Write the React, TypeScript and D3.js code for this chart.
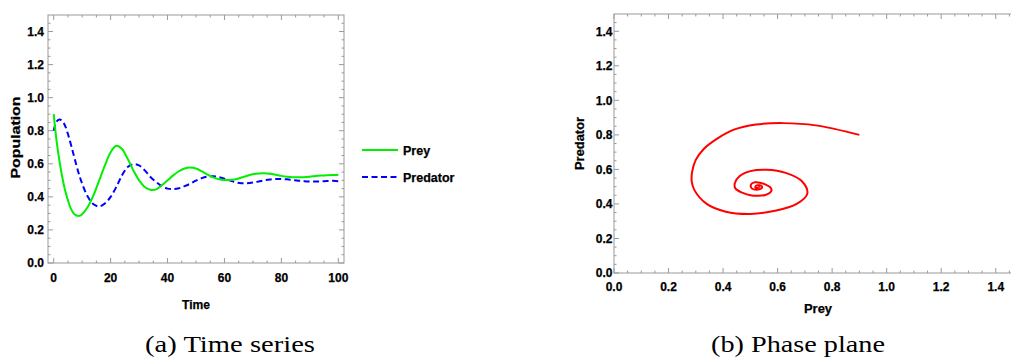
import * as d3 from 'd3';

// time samples (denser at the start where the curves move fast)
const time = [0, 1, 2, 3, 4, 5, 6, 7, 8, 9, 10, 12, 14, 16, 18, 20, 22, 24, 26, 28, 30, 32, 34, 36, 38, 40, 42, 44, 46, 48, 50, 52, 54, 56, 58, 60, 62, 64, 66, 68, 70, 72, 74, 76, 78, 80, 82, 84, 86, 88, 90, 92, 94, 96, 98, 100];
const prey = [0.90, 0.74, 0.62, 0.52, 0.44, 0.38, 0.33, 0.30, 0.287, 0.285, 0.295, 0.34, 0.41, 0.50, 0.59, 0.67, 0.709, 0.69, 0.63, 0.56, 0.50, 0.46, 0.443, 0.445, 0.47, 0.50, 0.53, 0.555, 0.572, 0.578, 0.572, 0.555, 0.535, 0.518, 0.507, 0.502, 0.502, 0.507, 0.517, 0.528, 0.537, 0.542, 0.543, 0.540, 0.534, 0.527, 0.522, 0.519, 0.518, 0.519, 0.522, 0.526, 0.529, 0.531, 0.532, 0.532];
const predator = [0.80, 0.855, 0.868, 0.86, 0.83, 0.78, 0.72, 0.655, 0.59, 0.53, 0.48, 0.40, 0.355, 0.342, 0.36, 0.40, 0.46, 0.53, 0.58, 0.598, 0.59, 0.56, 0.52, 0.49, 0.465, 0.45, 0.447, 0.452, 0.465, 0.48, 0.498, 0.513, 0.523, 0.525, 0.52, 0.51, 0.498, 0.488, 0.483, 0.483, 0.487, 0.493, 0.50, 0.505, 0.508, 0.508, 0.506, 0.502, 0.498, 0.495, 0.493, 0.493, 0.494, 0.496, 0.497, 0.495];

const timeTicks = [0, 20, 40, 60, 80, 100];
const popTicks = [0, 0.2, 0.4, 0.6, 0.8, 1.0, 1.2, 1.4];
const phaseTicks = [0, 0.2, 0.4, 0.6, 0.8, 1.0, 1.2, 1.4];

const legendItems = [
  { label: 'Prey', color: '#00f000', dash: '' },
  { label: 'Predator', color: '#0000ff', dash: '6,3.5' },
];

const FRAME = '#999';
const SANS = '"Liberation Sans", Arial, sans-serif';

function Label({ x, y, anchor = 'start', size = 12, rotate = false, len, children }: any) {
  return (
    <text
      transform={`translate(${x},${y})${rotate ? ' rotate(-90)' : ''}`}
      textAnchor={anchor}
      fontSize={size}
      fontFamily={SANS}
      fontWeight="bold"
      fill="#000"
      stroke="#000"
      strokeWidth={0.25}
      textLength={len}
      lengthAdjust={len ? 'spacingAndGlyphs' : undefined}
    >
      {children}
    </text>
  );
}

function FrameTicks({ x, y, xMajor, xMinor, yMajor, yMinor }: any) {
  const [x0, x1] = x.range();
  const [y0, y1] = y.range();
  const els: any[] = [];
  const big = 5, small = 2.5;
  xMinor.forEach((v: number, i: number) => {
    const len = xMajor.some((m: number) => Math.abs(m - v) < 1e-9) ? big : small;
    const px = x(v);
    els.push(<line key={'xb' + i} x1={px} x2={px} y1={y0} y2={y0 - len} />);
    els.push(<line key={'xt' + i} x1={px} x2={px} y1={y1} y2={y1 + len} />);
  });
  yMinor.forEach((v: number, i: number) => {
    const len = yMajor.some((m: number) => Math.abs(m - v) < 1e-9) ? big : small;
    const py = y(v);
    els.push(<line key={'yl' + i} x1={x0} x2={x0 + len} y1={py} y2={py} />);
    els.push(<line key={'yr' + i} x1={x1} x2={x1 - len} y1={py} y2={py} />);
  });
  return (
    <g stroke={FRAME} strokeWidth={1}>
      {els}
      <rect x={x0} y={y1} width={x1 - x0} height={y0 - y1} fill="none" />
    </g>
  );
}

function TimeSeries() {
  const x = d3.scaleLinear().domain([-2, 102]).range([48, 344]);
  const y = d3.scaleLinear().domain([0, 1.5]).range([263, 15]);
  const line = d3.line<number>().x((_, i) => x(time[i])).y((d) => y(d)).curve(d3.curveCatmullRom);
  const xMinor = d3.range(0, 101, 5);
  const yMinor = d3.range(0, 1.5, 0.05).map((v) => +v.toFixed(2));
  return (
    <g>
      <FrameTicks x={x} y={y} xMajor={timeTicks} xMinor={xMinor} yMajor={popTicks} yMinor={yMinor} />
      <path d={line(predator) || ''} fill="none" stroke="#0000ff" strokeWidth={2} strokeDasharray="6,3.5" />
      <path d={line(prey) || ''} fill="none" stroke="#00f000" strokeWidth={2} />
      {timeTicks.map((t) => (
        <Label key={t} x={x(t)} y={282} anchor="middle">{t}</Label>
      ))}
      {popTicks.map((t) => (
        <Label key={t} x={44} y={y(t) + 4.3} anchor="end">{t.toFixed(1)}</Label>
      ))}
      <Label x={196} y={309} anchor="middle" size={13} len={28}>Time</Label>
      <Label x={20} y={137.5} anchor="middle" size={12.5} len={82} rotate>Population</Label>
      {legendItems.map((d, i) => (
        <g key={d.label} transform={`translate(362,${150 + i * 27})`}>
          <line x1={0} x2={36} y1={0} y2={0} stroke={d.color} strokeWidth={2} strokeDasharray={d.dash || undefined} />
          <Label x={41} y={4.5} size={12.5}>{d.label}</Label>
        </g>
      ))}
    </g>
  );
}

function PhasePlane() {
  const x = d3.scaleLinear().domain([0, 1.5]).range([614, 1023]);
  const y = d3.scaleLinear().domain([0, 1.5]).range([273, 14]);
  const pts = prey.map((p, i) => [p, predator[i]] as [number, number]);
  const line = d3.line<[number, number]>().x((d) => x(d[0])).y((d) => y(d[1])).curve(d3.curveCatmullRom);
  const minor = d3.range(0, 1.5, 0.05).map((v) => +v.toFixed(2));
  return (
    <g>
      <FrameTicks x={x} y={y} xMajor={phaseTicks} xMinor={minor} yMajor={phaseTicks} yMinor={minor} />
      <path d={line(pts) || ''} fill="none" stroke="#ff0000" strokeWidth={2} />
      {phaseTicks.map((t) => (
        <Label key={'x' + t} x={x(t)} y={290.5} anchor="middle">{t.toFixed(1)}</Label>
      ))}
      {phaseTicks.map((t) => (
        <Label key={'y' + t} x={612.5} y={y(t) + 4.3} anchor="end">{t.toFixed(1)}</Label>
      ))}
      <Label x={818} y={313} anchor="middle" size={13} len={28}>Prey</Label>
      <Label x={584} y={143.5} anchor="middle" size={12.5} len={53} rotate>Predator</Label>
    </g>
  );
}

export default function App() {
  return (
    <svg width={1011} height={359} style={{ position: 'absolute', left: 0, top: 0, background: '#fff' }}>
      <TimeSeries />
      <PhasePlane />
      <g fontFamily='"Liberation Serif", "Times New Roman", serif' fontSize={24} fill="#000">
        <text x={230} y={352} textAnchor="middle" textLength={170} lengthAdjust="spacingAndGlyphs">(a) Time series</text>
        <text x={798} y={352} textAnchor="middle" textLength={174} lengthAdjust="spacingAndGlyphs">(b) Phase plane</text>
      </g>
    </svg>
  );
}
